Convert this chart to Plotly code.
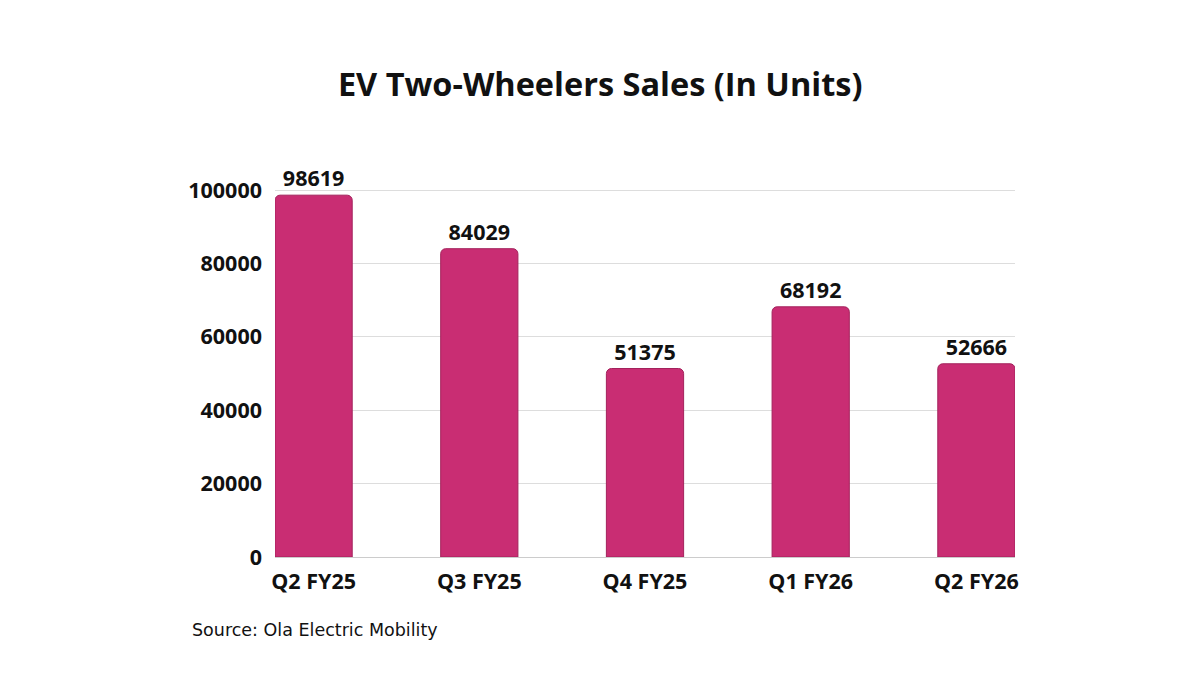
import plotly.graph_objects as go

categories = ["Q2 FY25", "Q3 FY25", "Q4 FY25", "Q1 FY26", "Q2 FY26"]
sales = [98619, 84029, 51375, 68192, 52666]
y_ticks = [0, 20000, 40000, 60000, 80000, 100000]

FONT = "Open Sans"
BAR_W = 0.466
xs = list(range(len(categories)))

fig = go.Figure(go.Bar(
    x=xs, y=sales, width=BAR_W,
    marker=dict(color="#C92D73", line=dict(color="#A3225C", width=1)),
    text=[str(v) for v in sales], textposition="outside",
    textfont=dict(family=FONT, size=21.5, color="#111111", weight=700),
    cliponaxis=False,
))

fig.update_layout(
    width=1200, height=675,
    paper_bgcolor="white", plot_bgcolor="white",
    margin=dict(l=267, r=193, t=181, b=126),
    barcornerradius=5,
    showlegend=False,
    title=dict(text="EV Two-Wheelers Sales (In Units)", x=0.4935, xanchor="center",
               y=0.886, yanchor="middle", pad=dict(l=0, r=0),
               font=dict(family=FONT, size=32.5, color="#111111", weight=700)),
    xaxis=dict(range=[-BAR_W / 2, len(categories) - 1 + BAR_W / 2],
               tickvals=xs, ticktext=categories, showgrid=False,
               showline=True, linecolor="#cccccc", linewidth=1,
               ticks="", ticklabelstandoff=5,
               tickfont=dict(family=FONT, size=21.5, color="#111111", weight=700)),
    yaxis=dict(range=[0, 100300], tickvals=y_ticks,
               ticktext=[str(v) for v in y_ticks], showgrid=True,
               gridcolor="#dddddd", gridwidth=1, zeroline=False,
               ticks="", ticklabelstandoff=12,
               tickfont=dict(family=FONT, size=21.5, color="#111111", weight=700)),
    annotations=[dict(text="Source: Ola Electric Mobility", xref="paper", yref="paper",
                      x=-0.1149, y=-0.199, xanchor="left", yanchor="middle",
                      showarrow=False,
                      font=dict(family="DejaVu Sans", size=17.5, color="#111111"))],
)

fig.write_html("out.html")
